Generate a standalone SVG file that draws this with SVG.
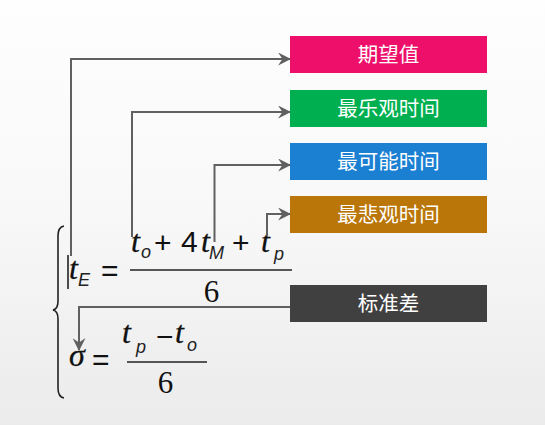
<svg xmlns="http://www.w3.org/2000/svg" width="545" height="425" viewBox="0 0 545 425">
<defs>
<linearGradient id="bg" x1="0" y1="0" x2="0" y2="1">
<stop offset="0" stop-color="#fefefe"/>
<stop offset="0.5" stop-color="#f8f8f8"/>
<stop offset="1" stop-color="#ebebeb"/>
</linearGradient>
<marker id="ahb" viewBox="0 0 12 12" refX="11" refY="6" markerWidth="13" markerHeight="13" orient="auto" markerUnits="userSpaceOnUse">
<path d="M0,0 L12,6 L0,12 L4,6 z" fill="#606060"/>
</marker>
</defs>
<style>
.lbl{font-family:"Noto Sans CJK SC","Noto Sans",sans-serif;font-size:20.5px;fill:#ffffff;text-anchor:middle;}
.conn{fill:none;stroke:#606060;stroke-width:2;marker-end:url(#ahb);}
.mi{font-family:"Liberation Serif",serif;font-style:italic;font-size:32px;fill:#111;stroke:#111;stroke-width:0.3;}
.sub{font-family:"Liberation Sans",sans-serif;font-style:italic;font-size:18px;fill:#222;}
.mr{font-family:"Liberation Sans",sans-serif;font-size:30px;fill:#111;}
.num{font-family:"Liberation Serif",serif;font-size:31px;fill:#111;}
.rule{stroke:#222;stroke-width:1.6;}
</style>
<rect width="545" height="425" fill="url(#bg)"/>

<g id="node-expect">
<rect x="290" y="36" width="197" height="37" fill="#EE0F6A"/>
<text class="lbl" x="388.5" y="62">期望值</text>
</g>
<g id="node-optimistic">
<rect x="290" y="90" width="197" height="37" fill="#00B050"/>
<text class="lbl" x="388.5" y="116">最乐观时间</text>
</g>
<g id="node-likely">
<rect x="290" y="143" width="197" height="37" fill="#1B7FD2"/>
<text class="lbl" x="388.5" y="169">最可能时间</text>
</g>
<g id="node-pessimistic">
<rect x="290" y="196" width="197" height="37" fill="#BA7608"/>
<text class="lbl" x="388.5" y="222">最悲观时间</text>
</g>
<g id="node-stddev">
<rect x="290" y="285" width="197" height="37" fill="#404040"/>
<text class="lbl" x="388.5" y="311">标准差</text>
</g>

<g id="formula">
<path d="M64,226 Q58,227 58,236 L58,301 Q58,309 53,310 Q58,311 58,319 L58,388 Q58,397 64,398" fill="none" stroke="#222" stroke-width="1.6"/>
<line x1="68" y1="255" x2="68" y2="289" stroke="#222" stroke-width="1.6"/>
<text class="mi" x="69" y="279">t</text>
<text class="sub" x="78" y="286">E</text>
<text class="mr" x="101" y="281">=</text>
<line class="rule" x1="130" y1="270" x2="292" y2="270"/>
<text class="mi" x="131" y="252">t</text>
<text class="sub" x="141" y="258">o</text>
<text class="mr" x="154" y="253">+</text>
<text class="mr" x="181" y="252">4</text>
<text class="mi" x="201" y="252">t</text>
<text class="sub" x="209" y="259">M</text>
<text class="mr" x="232" y="253">+</text>
<text class="mi" x="261" y="252">t</text>
<text class="sub" x="274" y="260">p</text>
<text class="num" x="211.5" y="302" text-anchor="middle">6</text>

<text class="mi" x="69" y="366" font-size="33">σ</text>
<text class="mr" x="92" y="370">=</text>
<line class="rule" x1="127" y1="362" x2="207" y2="362"/>
<text class="mi" x="122" y="343">t</text>
<text class="sub" x="136" y="353">p</text>
<text class="mr" x="156" y="347" font-size="26">−</text>
<text class="mi" x="175" y="343">t</text>
<text class="sub" x="187" y="351">o</text>
<text class="num" x="165.5" y="393" text-anchor="middle">6</text>
</g>

<g id="connectors">
<path class="conn" d="M71,256 L71,59 L290,59"/>
<path class="conn" d="M132,237 L132,112 L290,112"/>
<path class="conn" d="M214.5,242 L214.5,165 L290,165"/>
<path class="conn" d="M267,236 L267,214 L290,214"/>
<path class="conn" d="M290,307 L79,307 L79,350"/>
</g>
</svg>
